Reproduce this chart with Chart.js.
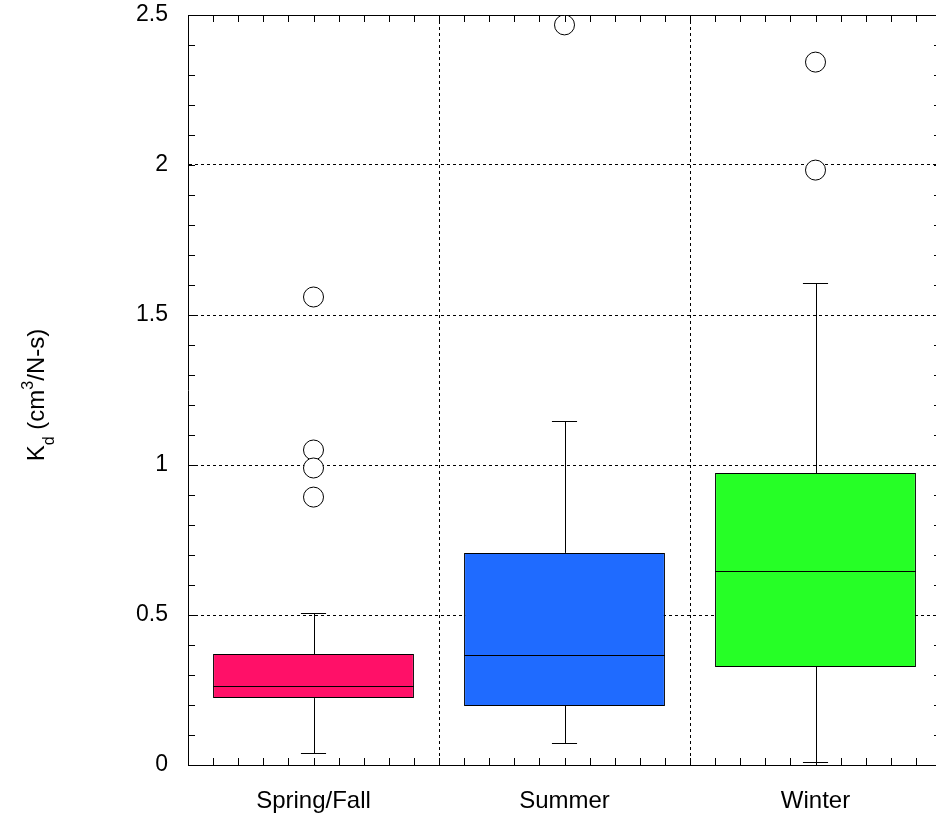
<!DOCTYPE html>
<html>
<head>
<meta charset="utf-8">
<script src="https://cdn.jsdelivr.net/npm/chart.js@4/dist/chart.umd.min.js"></script>
<style>
    html, body { margin: 0; padding: 0; background: #fff; overflow: hidden; }
    #wrap { width: 950px; height: 820px; }
</style>
</head>
<body>
<div id="wrap"><canvas id="chart" width="950" height="820"></canvas></div>
<script>
const categories = ['Spring/Fall', 'Summer', 'Winter'];
const q1 = [0.223, 0.197, 0.327];
const q3 = [0.37, 0.707, 0.973];
const medians = [0.263, 0.367, 0.647];
const whiskerLow = [0.04, 0.073, 0.01];
const whiskerHigh = [0.507, 1.147, 1.607];
const outliers = [[1.56, 1.05, 0.99, 0.893], [2.467], [2.343, 1.983]];
const boxColors = ['#ff1068', '#1f6bff', '#26ff26'];
const yMin = 0;
const yMax = 2.5;
const yStep = 0.5;

(function () {
    const FONT = 'Liberation Sans, Arial, Helvetica, sans-serif';

    const outlierPoints = [];
    outliers.forEach((vals, i) => {
        vals.forEach((v) => outlierPoints.push({ x: categories[i], y: v }));
    });

    const boxPlugin = {
        id: 'boxParts',
        beforeDatasetsDraw(chart) {
            const { ctx } = chart;
            const x = chart.scales.x;
            const y = chart.scales.y;
            ctx.save();
            ctx.strokeStyle = '#000';
            ctx.lineWidth = 1;
            categories.forEach((c, i) => {
                const cx = Math.round(x.getPixelForValue(i)) + 0.5;
                const capL = x.getPixelForValue(i - 0.05);
                const capR = x.getPixelForValue(i + 0.05);
                const lo = Math.round(y.getPixelForValue(whiskerLow[i])) + 0.5;
                const hi = Math.round(y.getPixelForValue(whiskerHigh[i])) + 0.5;
                ctx.beginPath();
                ctx.moveTo(cx, lo);
                ctx.lineTo(cx, y.getPixelForValue(q1[i]));
                ctx.moveTo(cx, hi);
                ctx.lineTo(cx, y.getPixelForValue(q3[i]));
                ctx.moveTo(capL, lo);
                ctx.lineTo(capR, lo);
                ctx.moveTo(capL, hi);
                ctx.lineTo(capR, hi);
                ctx.stroke();
            });
            ctx.restore();
        },
        afterDatasetDraw(chart, args) {
            if (args.index !== 1) {
                return;
            }
            const { ctx } = chart;
            const x = chart.scales.x;
            const y = chart.scales.y;
            ctx.save();
            ctx.strokeStyle = '#000';
            ctx.lineWidth = 1;
            categories.forEach((c, i) => {
                const my = Math.round(y.getPixelForValue(medians[i])) + 0.5;
                ctx.beginPath();
                ctx.moveTo(x.getPixelForValue(i - 0.4), my);
                ctx.lineTo(x.getPixelForValue(i + 0.4), my);
                ctx.stroke();
            });
            ctx.restore();
        },
        afterDraw(chart) {
            const { ctx, chartArea: a } = chart;
            const x = chart.scales.x;
            const y = chart.scales.y;
            const tick = 7;
            ctx.save();
            ctx.strokeStyle = '#000';
            ctx.lineWidth = 1;
            ctx.beginPath();
            // frame top and right
            ctx.moveTo(a.left, a.top + 0.5);
            ctx.lineTo(a.right, a.top + 0.5);
            ctx.moveTo(a.right - 0.5, a.top);
            ctx.lineTo(a.right - 0.5, a.bottom);
            // minor ticks on y
            for (let v = yMin; v <= yMax + 1e-9; v += 0.1) {
                const py = Math.round(y.getPixelForValue(v)) + 0.5;
                ctx.moveTo(a.left, py);
                ctx.lineTo(a.left + tick, py);
                ctx.moveTo(a.right, py);
                ctx.lineTo(a.right - tick, py);
            }
            // minor ticks on x
            for (let k = 0; k <= categories.length * 10; k++) {
                const px = Math.round(x.getPixelForValue(-0.5 + k / 10)) + 0.5;
                ctx.moveTo(px, a.bottom);
                ctx.lineTo(px, a.bottom - tick);
                ctx.moveTo(px, a.top);
                ctx.lineTo(px, a.top + tick);
            }
            ctx.stroke();

            // y axis title with subscript / superscript
            const mid = 395;
            const big = '24px ' + FONT;
            const small = '16px ' + FONT;
            const parts = [
                { t: 'K', f: big, dy: 0 },
                { t: 'd', f: small, dy: 10 },
                { t: ' (cm', f: big, dy: 0 },
                { t: '3', f: small, dy: -11 },
                { t: '/N-s)', f: big, dy: 0 },
            ];
            let total = 0;
            parts.forEach((p) => {
                ctx.font = p.f;
                p.w = ctx.measureText(p.t).width;
                total += p.w;
            });
            ctx.translate(44, mid);
            ctx.rotate(-Math.PI / 2);
            ctx.fillStyle = '#000';
            ctx.textBaseline = 'alphabetic';
            ctx.textAlign = 'left';
            let pos = -total / 2;
            parts.forEach((p) => {
                ctx.font = p.f;
                ctx.fillText(p.t, pos, p.dy);
                pos += p.w;
            });
            ctx.restore();
        },
    };

    const ctx = document.getElementById('chart').getContext('2d');
    new Chart(ctx, {
        type: 'bar',
        data: {
            labels: categories,
            datasets: [
                {
                    type: 'line',
                    data: outlierPoints,
                    showLine: false,
                    pointRadius: 10,
                    pointBackgroundColor: '#fff',
                    pointBorderColor: '#000',
                    pointBorderWidth: 1,
                    order: 0,
                },
                {
                    type: 'bar',
                    data: categories.map((c, i) => [q1[i], q3[i]]),
                    backgroundColor: boxColors,
                    borderColor: '#000',
                    borderWidth: 1,
                    borderSkipped: false,
                    barPercentage: 0.8,
                    categoryPercentage: 1,
                    order: 1,
                },
            ],
        },
        options: {
            responsive: false,
            animation: false,
            layout: { autoPadding: false, padding: { top: 15, right: 9, left: 0, bottom: 0 } },
            plugins: {
                legend: { display: false },
                tooltip: { enabled: false },
            },
            scales: {
                x: {
                    type: 'category',
                    offset: true,
                    grid: { offset: true, color: '#000', lineWidth: 1, drawTicks: false },
                    border: { display: true, color: '#000', width: 1, dash: [3, 3] },
                    ticks: { color: '#000', font: { family: FONT, size: 24 }, padding: 22 },
                    afterFit: (s) => { s.height = 55; s.paddingLeft = 0; s.paddingRight = 0; },
                },
                y: {
                    min: yMin,
                    max: yMax,
                    grid: { color: '#000', lineWidth: 1, drawTicks: false },
                    border: { display: true, color: '#000', width: 1, dash: [3, 3] },
                    ticks: {
                        stepSize: yStep,
                        color: '#000',
                        font: { family: FONT, size: 23 },
                        padding: 20,
                        callback: (v) => String(v),
                    },
                    afterFit: (s) => { s.width = 188; s.paddingTop = 0; s.paddingBottom = 0; },
                },
            },
        },
        plugins: [boxPlugin],
    });
})();
</script>
</body>
</html>
